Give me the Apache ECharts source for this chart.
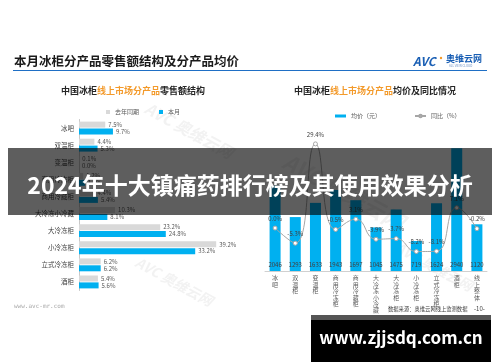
<!DOCTYPE html>
<html><head><meta charset="utf-8">
<script src="https://cdn.jsdelivr.net/npm/echarts@6/dist/echarts.min.js"></script>
<style>html,body{margin:0;padding:0;background:#fff}#c{width:500px;height:362px}</style>
</head><body><div id="c"></div>
<script>
const leftCats = ['冰吧','双温柜','变温柜','商用冷冻柜','商用冷藏柜','大冷冻小冷藏','大冷冻柜','小冷冻柜','立式冷冻柜','酒柜'];
const lastYearShare = [7.5,4.4,0.1,1.2,4.4,10.3,23.2,39.2,6.2,5.4];
const thisMonthShare = [9.7,5.3,0.0,1.7,5.4,8.1,24.8,33.2,6.2,5.6];
const rightCats = ['冰吧','双温柜','变温柜','商用冷冻柜','商用冷藏柜','大冷冻小冷藏','大冷冻柜','小冷冻柜','立式冷冻柜','酒柜','线上整体'];
const avgPrice = [2046,1293,1633,1943,1697,1045,1475,719,1624,2940,1120];
const yoyPct = [0.0,-5.3,29.4,-0.5,3.1,-3.9,-3.7,-8.2,-8.1,7.1,-0.2];

const FF = '"Noto Sans CJK SC","Noto Sans",sans-serif';
const chart = echarts.init(document.getElementById('c'), null, {renderer:'canvas'});
const pct = p => p.value.toFixed(1) + '%';
const wm = (x,y,r,s) => ({type:'text', x:x, y:y, rotation:r, z:1,
  style:{text:'AVC 奥维云网', fill:'rgba(185,185,185,0.18)', font:'bold italic '+s+'px '+FF}});
chart.setOption({
  animation:false,
  textStyle:{fontFamily:FF},
  title:[
    {text:'{a|中国冰柜}{b|线上市场分产品}{a|零售额结构}', left:128, top:81, textAlign:'center',
     textStyle:{rich:{a:{fontSize:9,fontWeight:'bold',color:'#262626',fontFamily:FF},b:{fontSize:9,fontWeight:'bold',color:'#f39a2b',fontFamily:FF}}}},
    {text:'{a|中国冰柜}{b|线上市场分产品}{a|均价及同比情况}', left:370, top:81, textAlign:'center',
     textStyle:{rich:{a:{fontSize:9,fontWeight:'bold',color:'#262626',fontFamily:FF},b:{fontSize:9,fontWeight:'bold',color:'#f39a2b',fontFamily:FF}}}}
  ],
  legend:[
    {data:['去年同期','本月'], left:101, top:104, itemWidth:4, itemHeight:4, itemGap:20, icon:'rect',
     textStyle:{fontSize:6, color:'#595959', fontFamily:FF}},
    {data:[{name:'均价（元）', icon:'rect'},{name:'同比（%）'}], left:330, top:108, itemWidth:11, itemHeight:3, itemGap:33,
     textStyle:{fontSize:6, color:'#595959', fontFamily:FF}}
  ],
  grid:[
    {left:79, top:119.5, width:157.5, height:171},
    {left:265, top:125, width:222, height:146}
  ],
  xAxis:[
    {type:'value', gridIndex:0, min:0, max:45, show:false},
    {type:'category', gridIndex:1, data:rightCats,
     axisLine:{lineStyle:{color:'#d0d0d0'}}, axisTick:{show:false},
     axisLabel:{interval:0, fontSize:6, color:'#595959', lineHeight:6.4, margin:4,
       formatter:v => v.split('').join('\n')}}
  ],
  yAxis:[
    {type:'category', gridIndex:0, data:leftCats, inverse:true,
     axisLine:{lineStyle:{color:'#c8c8c8'}}, axisTick:{show:false},
     axisLabel:{fontSize:6.5, color:'#404040', margin:5}},
    {type:'value', gridIndex:1, min:0, max:3500, show:false, splitLine:{show:false}},
    {type:'value', gridIndex:1, min:-15, max:36, show:false, splitLine:{show:false}}
  ],
  series:[
    {name:'去年同期', type:'bar', xAxisIndex:0, yAxisIndex:0, data:lastYearShare, barWidth:6, barGap:'15%',
     itemStyle:{color:'#d9d9d9'}, label:{show:true, position:'right', distance:3, fontSize:6, color:'#595959', formatter:pct}},
    {name:'本月', type:'bar', xAxisIndex:0, yAxisIndex:0, data:thisMonthShare, barWidth:6,
     itemStyle:{color:'#00b0f0'}, label:{show:true, position:'right', distance:3, fontSize:6, color:'#595959', formatter:pct}},
    {name:'均价（元）', type:'bar', xAxisIndex:1, yAxisIndex:1, data:avgPrice, barWidth:11,
     itemStyle:{color:'#00b0f0'}, label:{show:true, position:'insideBottom', distance:3, fontSize:6, color:'#404040'}},
    {name:'同比（%）', type:'line', xAxisIndex:1, yAxisIndex:2, data:yoyPct, smooth:true,
     symbol:'circle', symbolSize:4, showAllSymbol:true,
     lineStyle:{color:'#a6a6a6', width:1}, itemStyle:{color:'#ffffff', borderColor:'#a6a6a6', borderWidth:1},
     label:{show:true, position:'top', distance:4, fontSize:6, color:'#404040', formatter:pct}}
  ],
  graphic:[
    wm(150,100,-0.5,16), wm(290,150,-0.5,22), wm(400,240,-0.5,14), wm(140,255,-0.5,14),
    {type:'text', x:14, y:61, style:{text:'本月冰柜分产品零售额结构及分产品均价', fill:'#1a1a1a', font:'bold 12.5px '+FF, verticalAlign:'middle'}},
    {type:'rect', shape:{x:13, y:70, width:474, height:1}, style:{fill:'#1f6fc5'}},
    {type:'text', x:413, y:61, style:{text:'AVC', fill:'#1a5fb4', font:'bold italic 12px '+FF, verticalAlign:'middle'}},
    {type:'circle', shape:{cx:441, cy:58, r:1.2}, style:{fill:'#f39a2b'}},
    {type:'text', x:446, y:59, style:{text:'奥维云网', fill:'#1a5fb4', font:'bold 9px '+FF, verticalAlign:'middle'}},
    {type:'text', x:449, y:66, style:{text:'ALL VIEW CLOUD', fill:'#6a8fc4', font:'3px '+FF, verticalAlign:'middle'}},
    {type:'text', x:14, y:306, style:{text:'www.avc-mr.com', fill:'#a8a8a8', font:'6px "DejaVu Sans Mono",monospace', verticalAlign:'middle'}},
    {type:'text', x:388, y:309, style:{text:'数据来源：奥维云网线上监测数据', fill:'#404040', font:'5.3px '+FF, verticalAlign:'middle'}},
    {type:'text', x:474, y:309, style:{text:'-10-', fill:'#404040', font:'6px '+FF, verticalAlign:'middle'}},
    {type:'rect', z:100, shape:{x:8, y:148, width:484, height:67}, style:{fill:'rgba(0,0,0,0.63)'}},
    {type:'text', z:101, x:250, y:185, style:{text:'2024年十大镇痛药排行榜及其使用效果分析', fill:'#ffffff', font:'bold 23px '+FF, align:'center', verticalAlign:'middle'}},
    {type:'rect', z:100, shape:{x:311, y:315, width:180, height:47}, style:{fill:'#555555'}},
    {type:'rect', z:100, shape:{x:311, y:320, width:180, height:42}, style:{fill:'#000000'}},
    {type:'text', z:101, x:401, y:338, style:{text:'www.zjjsdq.com.cn', fill:'#ffffff', font:'bold 17px '+FF, align:'center', verticalAlign:'middle'}}
  ]
});
</script></body></html>
